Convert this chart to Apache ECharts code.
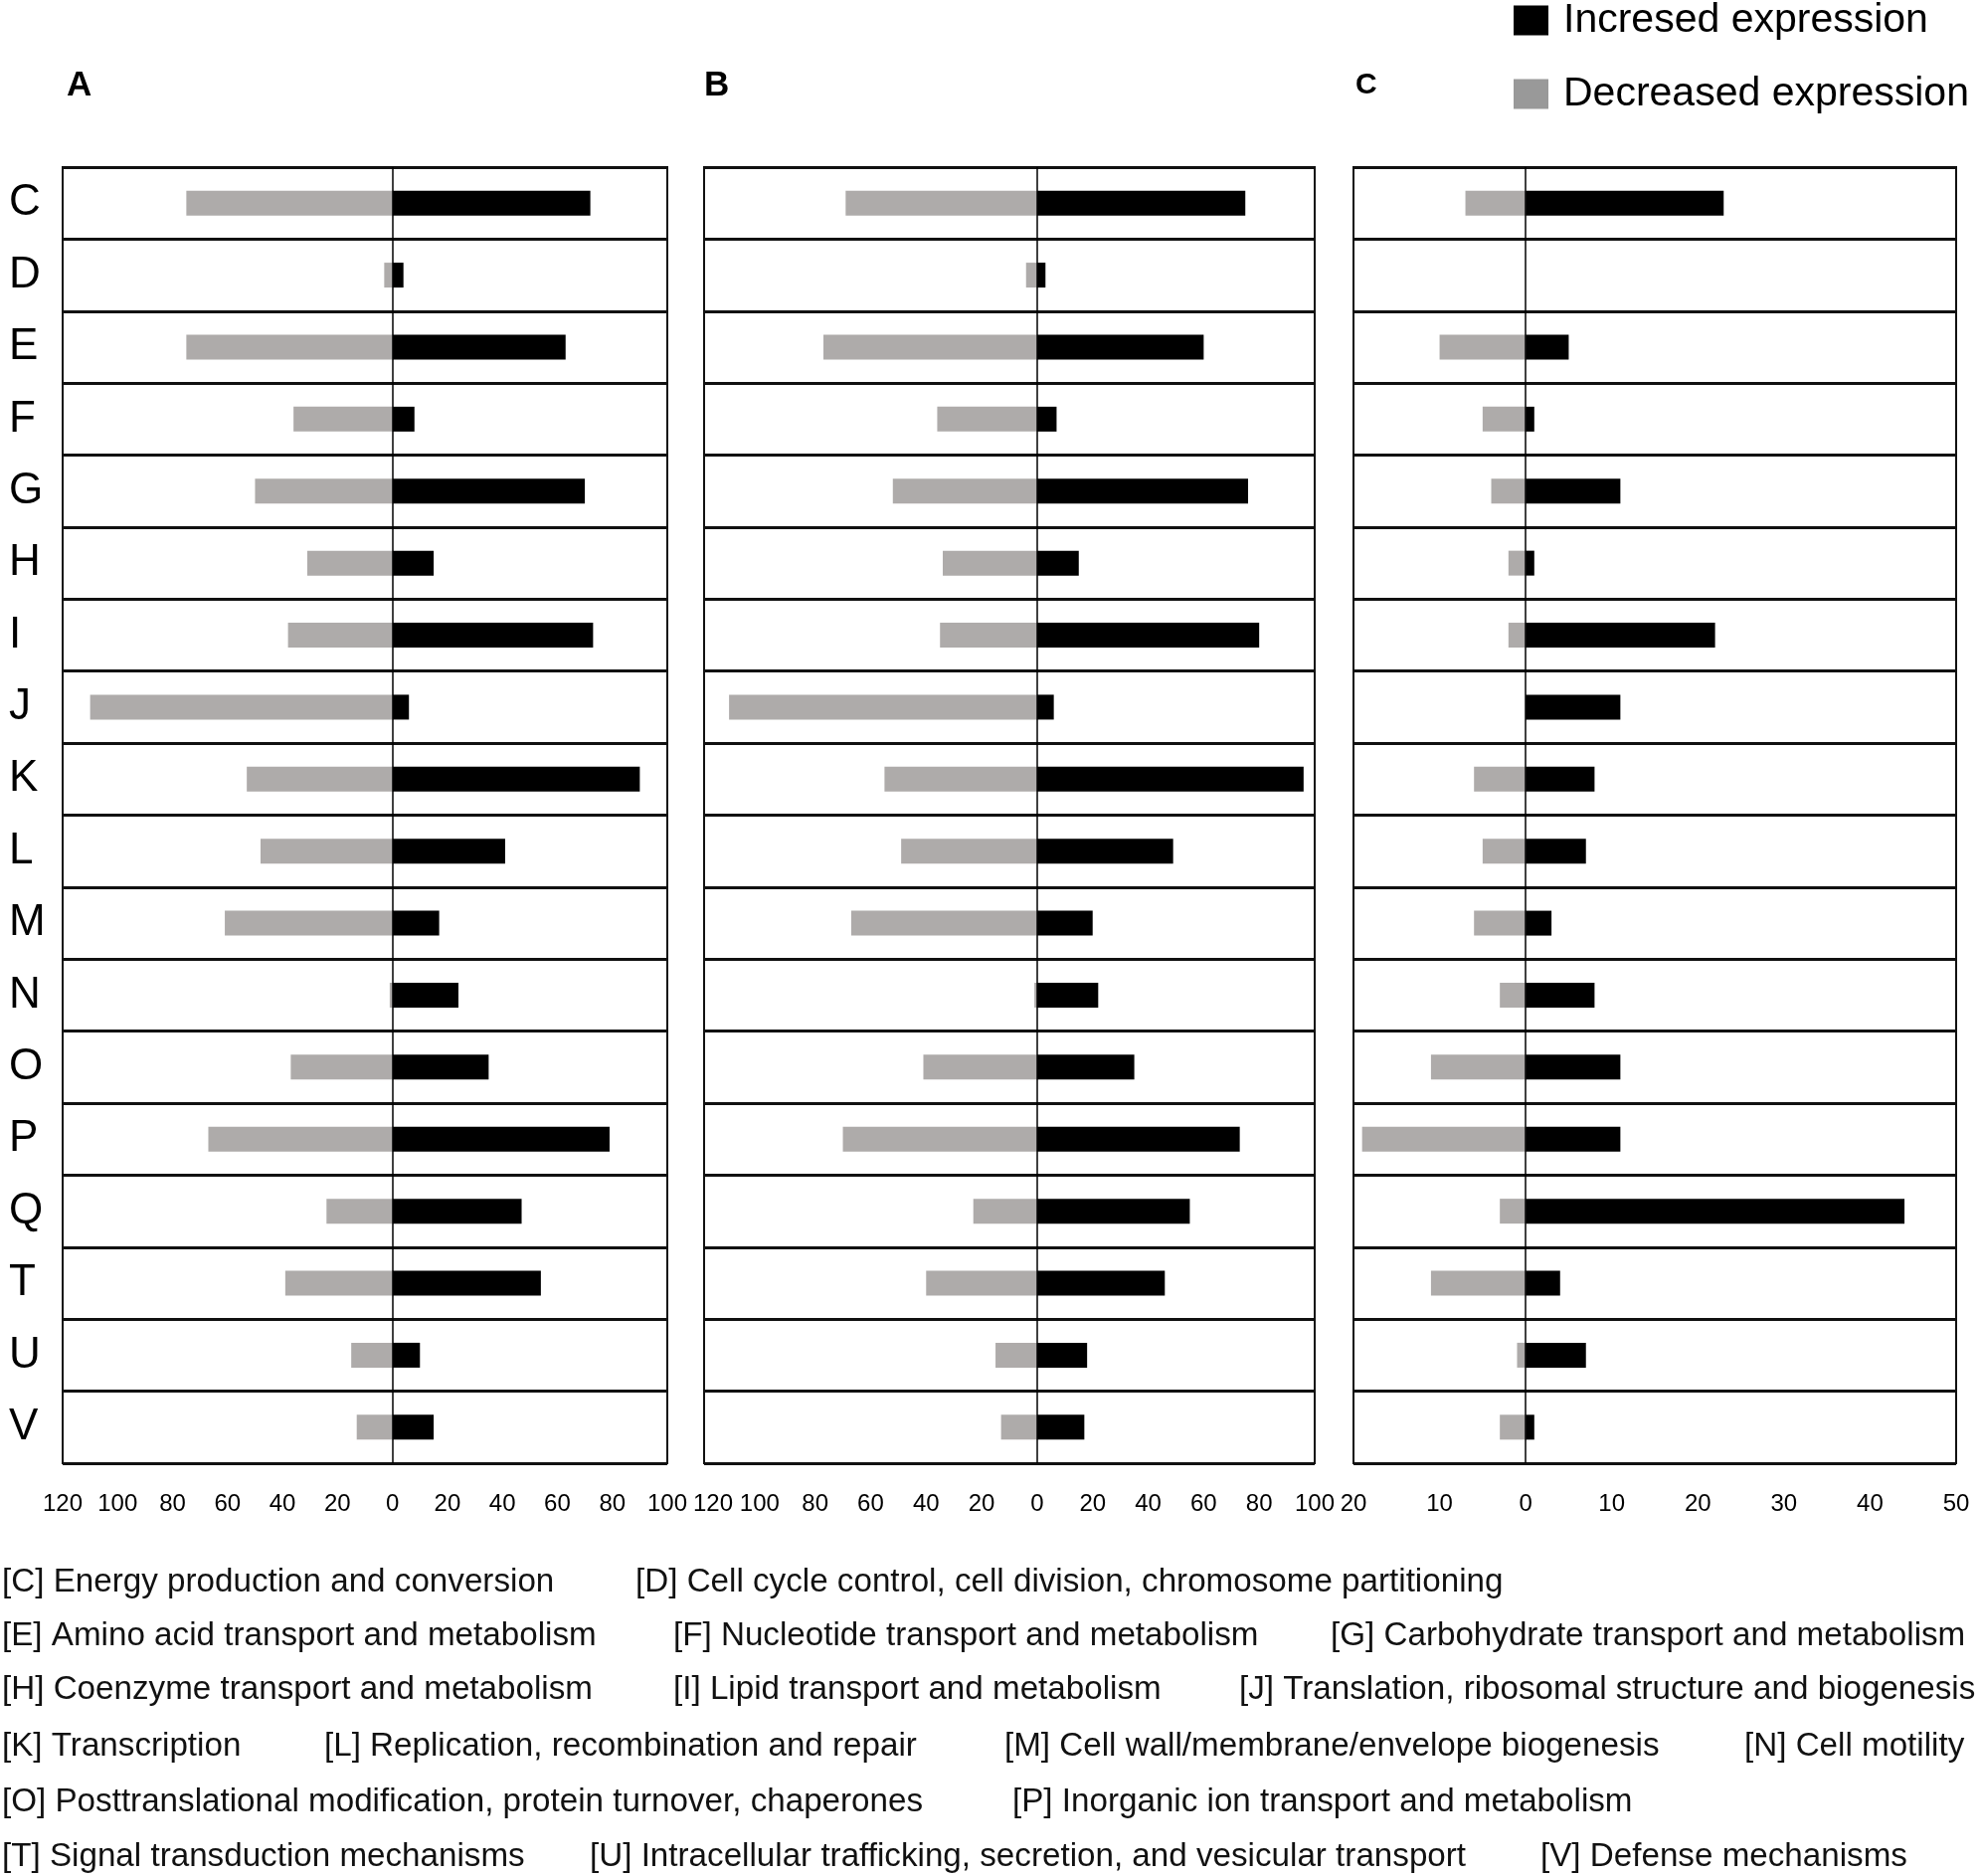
<!DOCTYPE html>
<html>
<head>
<meta charset="utf-8">
<script src="https://cdn.jsdelivr.net/npm/echarts@6/dist/echarts.min.js"></script>
<style>
html,body{margin:0;padding:0;background:#fff;}
#chart{width:1992px;height:1886px;}
</style>
</head>
<body>
<div id="chart"></div>
<script>
// ---- data ----
const categories = ['C','D','E','F','G','H','I','J','K','L','M','N','O','P','Q','T','U','V'];
const panelNames = ['A','B','C'];
const incA = [72,4,63,8,70,15,73,6,90,41,17,24,35,79,47,54,10,15];
const decA = [75,3,75,36,50,31,38,110,53,48,61,1,37,67,24,39,15,13];
const incB = [75,3,60,7,76,15,80,6,96,49,20,22,35,73,55,46,18,17];
const decB = [69,4,77,36,52,34,35,111,55,49,67,1,41,70,23,40,15,13];
const incC = [23,0,5,1,11,1,22,11,8,7,3,8,11,11,44,4,7,1];
const decC = [7,0,10,5,4,2,2,0,6,5,6,3,11,19,3,11,1,3];
const axisRangeAB = [-120, 100, 20];
const axisRangeC = [-20, 50, 10];
const seriesNames = ['Incresed expression', 'Decreased expression'];
const descriptions = [
  ['[C] Energy production and conversion', '[D] Cell cycle control, cell division, chromosome partitioning'],
  ['[E] Amino acid transport and metabolism', '[F] Nucleotide transport and metabolism', '[G] Carbohydrate transport and metabolism'],
  ['[H] Coenzyme transport and metabolism', '[I] Lipid transport and metabolism', '[J] Translation, ribosomal structure and biogenesis'],
  ['[K] Transcription', '[L] Replication, recombination and repair', '[M] Cell wall/membrane/envelope biogenesis', '[N] Cell motility'],
  ['[O] Posttranslational modification, protein turnover, chaperones', '[P] Inorganic ion transport and metabolism'],
  ['[T] Signal transduction mechanisms', '[U] Intracellular trafficking, secretion, and vesicular transport', '[V] Defense mechanisms']
];

// ---- layout (positions/styles) ----
const FONT = '"Liberation Sans", Arial, Helvetica, sans-serif';
const grids = [
  {left: 63, top: 168, width: 608, height: 1303},
  {left: 708, top: 168, width: 614, height: 1303},
  {left: 1361, top: 168, width: 606, height: 1303}
];
const descRowY = [1591, 1645, 1699, 1756, 1812, 1867];
const descColX = [
  [2, 639],
  [2, 677, 1338],
  [2, 677, 1246],
  [2, 326, 1010, 1754],
  [2, 1018],
  [2, 593, 1549]
];
const panelLabelPos = [[67, 86, 35], [708, 86, 35], [1363, 86, 30]];

const COLOR_INC = '#000000';
const COLOR_DEC = '#aeabaa';

const panels = [
  {inc: incA, dec: decA, range: axisRangeAB, padMin: 0},
  {inc: incB, dec: decB, range: axisRangeAB, padMin: 18},
  {inc: incC, dec: decC, range: axisRangeC, padMin: 0}
];

const xAxes = [], yAxes = [], series = [];
panels.forEach((p, i) => {
  xAxes.push({
    gridIndex: i, type: 'value', min: p.range[0], max: p.range[1], interval: p.range[2],
    axisLine: {show: false}, axisTick: {show: false}, splitLine: {show: false},
    axisLabel: {
      color: '#000', fontSize: 24, fontFamily: FONT, margin: 29,
      formatter: v => (v === p.range[0] && p.padMin) ? '{m|' + Math.abs(v) + '}' : String(Math.abs(v)),
      rich: {m: {fontSize: 24, fontFamily: FONT, color: '#000', padding: [0, 0, 0, p.padMin]}}
    }
  });
  yAxes.push({
    gridIndex: i, type: 'category', data: categories, inverse: true,
    axisLine: {show: false}, axisTick: {show: false},
    splitLine: {show: true, interval: 0, lineStyle: {color: '#111', width: 3}},
    axisLabel: i === 0 ? {
      show: true, interval: 0, color: '#000', fontSize: 44, fontFamily: FONT,
      align: 'left', margin: 54
    } : {show: false}
  });
  series.push({
    type: 'bar', name: seriesNames[0], xAxisIndex: i, yAxisIndex: i,
    data: p.inc, barWidth: 25, barGap: '-100%',
    itemStyle: {color: COLOR_INC}, silent: true,
    markLine: {
      silent: true, symbol: 'none', label: {show: false},
      lineStyle: {color: '#000', width: 1.5, type: 'solid'},
      data: [{xAxis: 0}]
    }
  });
  series.push({
    type: 'bar', name: seriesNames[1], xAxisIndex: i, yAxisIndex: i,
    data: p.dec.map(v => -v), barWidth: 25, barGap: '-100%',
    itemStyle: {color: COLOR_DEC}, silent: true
  });
});

const graphics = [];
panelNames.forEach((n, i) => {
  const pos = panelLabelPos[i];
  graphics.push({
    type: 'text', x: pos[0], y: pos[1],
    style: {text: n, font: 'bold ' + pos[2] + 'px ' + FONT, fill: '#000', textVerticalAlign: 'middle', verticalAlign: 'middle'}
  });
});
descriptions.forEach((row, r) => {
  row.forEach((t, c) => {
    graphics.push({
      type: 'text', x: descColX[r][c], y: descRowY[r],
      style: {text: t, font: '33.2px ' + FONT, fill: '#111', verticalAlign: 'middle', textVerticalAlign: 'middle'}
    });
  });
});

const chart = echarts.init(document.getElementById('chart'), null, {renderer: 'canvas'});
chart.setOption({
  backgroundColor: '#fff',
  animation: false,
  grid: grids.map(g => Object.assign({show: true, borderColor: '#111', borderWidth: 2, backgroundColor: 'transparent', containLabel: false}, g)),
  xAxis: xAxes,
  yAxis: yAxes,
  legend: {
    orient: 'vertical', left: 1522, top: 0, padding: 0,
    itemWidth: 35, itemHeight: 30, itemGap: 33,
    icon: 'rect', selectedMode: false,
    textStyle: {fontSize: 41, fontFamily: FONT, color: '#000', padding: [0, 0, 0, 10]},
    data: [
      {name: seriesNames[0], itemStyle: {color: COLOR_INC}},
      {name: seriesNames[1], itemStyle: {color: '#999999'}}
    ]
  },
  series: series,
  graphic: graphics
});
</script>
</body>
</html>
